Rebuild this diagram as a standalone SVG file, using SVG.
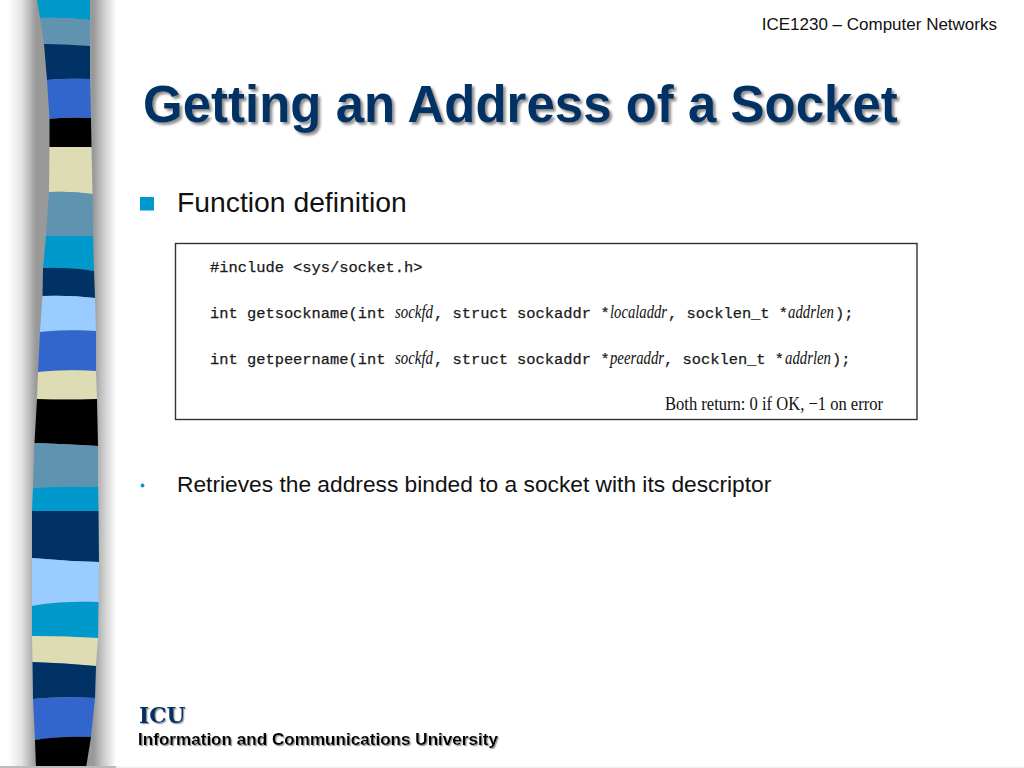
<svg xmlns="http://www.w3.org/2000/svg" width="1024" height="768" viewBox="0 0 1024 768">
<style>
.cy{fill:#0099cc}.st{fill:#5f93af}.na{fill:#003366}.ro{fill:#3366cc}.bk{fill:#000}.cr{fill:#dddcb4}.lt{fill:#99ccff}
text{font-family:"Liberation Sans",Arial,sans-serif}
.code{font-family:"Liberation Mono","Courier New",monospace;font-size:15.4px;fill:#1a1a1a;stroke:#1a1a1a;stroke-width:.25}
.it{font-family:"Liberation Serif","Times New Roman",serif;font-style:italic;font-size:19px;fill:#111;stroke:none}
</style>
<defs>
<linearGradient id="shade" gradientUnits="userSpaceOnUse" x1="0" y1="0" x2="120" y2="0">
<stop offset="0.07" stop-color="#fff"/><stop offset="0.18" stop-color="#e2e2e2"/><stop offset="0.3" stop-color="#999"/><stop offset="0.78" stop-color="#999"/><stop offset="0.85" stop-color="#c4c4c4"/><stop offset="0.97" stop-color="#fff"/>
</linearGradient>
<filter id="soft"><feGaussianBlur stdDeviation="0.35"/></filter>
<filter id="ts" x="-5%" y="-20%" width="110%" height="150%"><feDropShadow dx="2.5" dy="2.5" stdDeviation="0.9" flood-color="#8f8f8f"/></filter>
<filter id="fs" x="-5%" y="-20%" width="110%" height="150%"><feDropShadow dx="1.2" dy="1.2" stdDeviation="0.6" flood-color="#999"/></filter>
</defs>
<rect width="1024" height="768" fill="#fff"/>
<g id="band-shadow"><rect x="0" y="0" width="120" height="768" fill="url(#shade)"/></g>
<g id="bands" filter="url(#soft)">
<path class="cy" d="M37 0H90V20Q60 17 40 18Z"/>
<path class="st" d="M40 18Q60 17 90 20V46Q65 44 44 44Z"/>
<path class="na" d="M44 44Q65 44 90 46V79Q65 78 47 80Z"/>
<path class="ro" d="M47 80Q65 78 90 79L91 118Q65 117 49.500 119Z"/>
<path class="bk" d="M49.500 119Q65 117 91 118L91.500 147H49.500Z"/>
<path class="cr" d="M49.500 147H91.500L92.500 194Q70 191 49 192Z"/>
<path class="st" d="M49 192Q70 191 92.500 194L93 236H46Z"/>
<path class="cy" d="M46 236H93L94 271Q70 267 43 268Z"/>
<path class="na" d="M43 268Q70 267 94 271L95 298Q70 295 42.500 296Z"/>
<path class="lt" d="M42.500 296Q70 295 95 298L96 331Q65 329 40 332Z"/>
<path class="ro" d="M40 332Q65 329 96 331V371Q65 369 38 372Z"/>
<path class="cr" d="M38 372Q65 369 96 371L97 399Q65 400 37 399Z"/>
<path class="bk" d="M37 399Q65 400 97 399L98 446Q65 444 34.500 443Z"/>
<path class="st" d="M34.500 443Q65 444 98 446V487Q60 486 33 488Z"/>
<path class="cy" d="M33 488Q60 486 98 487L98.500 511H32Z"/>
<path class="na" d="M32 511H98.500L99 562Q65 561 32 558Z"/>
<path class="lt" d="M32 558Q65 561 99 562L98.500 602Q60 601 32 606Z"/>
<path class="cy" d="M32 606Q60 601 98.500 602L98 638Q65 636 32 636Z"/>
<path class="cr" d="M32 636Q65 636 98 638L96 666Q65 663 32.500 662Z"/>
<path class="na" d="M32.500 662Q65 663 96 666L95 698Q60 696 33 699Z"/>
<path class="ro" d="M33 699Q60 696 95 698L91 737Q60 736 35 740Z"/>
<path class="bk" d="M35 740Q60 736 91 737L86 768H36Z"/>
</g>
<g id="bottom-rule">
<rect x="0" y="766" width="116" height="2" fill="#bbb"/>
<rect x="116" y="766.500" width="908" height="1.500" fill="#eee"/>
</g>
<g id="header"><text x="997" y="30" text-anchor="end" font-size="17" fill="#111">ICE1230 – Computer Networks</text></g>
<g id="title"><text x="143" y="122" font-size="51" font-weight="700" fill="#003366" filter="url(#ts)">Getting an Address of a Socket</text></g>
<g id="bullet-1">
<rect x="140" y="197" width="14" height="13.500" fill="#0099cc"/>
<text x="177" y="212" font-size="28.300" fill="#111">Function definition</text>
</g>
<g id="code-box">
<rect x="175.500" y="243.500" width="741.500" height="176" fill="#fff" stroke="#333" stroke-width="1.400"/>
<text class="code" x="210" y="272">#include &lt;sys/socket.h&gt;</text>
<text class="code" y="318"><tspan x="210">int getsockname(int</tspan><tspan class="it" x="395" textLength="38" lengthAdjust="spacingAndGlyphs">sockfd</tspan><tspan x="434">, struct sockaddr</tspan><tspan x="600.500">*</tspan><tspan class="it" x="610" textLength="57" lengthAdjust="spacingAndGlyphs">localaddr</tspan><tspan x="668">, socklen_t *</tspan><tspan class="it" x="788" textLength="46" lengthAdjust="spacingAndGlyphs">addrlen</tspan><tspan x="835">);</tspan></text>
<text class="code" y="364"><tspan x="210">int getpeername(int</tspan><tspan class="it" x="395" textLength="38" lengthAdjust="spacingAndGlyphs">sockfd</tspan><tspan x="434">, struct sockaddr</tspan><tspan x="600.500">*</tspan><tspan class="it" x="610" textLength="54" lengthAdjust="spacingAndGlyphs">peeraddr</tspan><tspan x="664">, socklen_t *</tspan><tspan class="it" x="785" textLength="46" lengthAdjust="spacingAndGlyphs">addrlen</tspan><tspan x="832">);</tspan></text>
<text x="665" y="410" font-size="19" fill="#111" textLength="218" lengthAdjust="spacingAndGlyphs" style="font-family:'Liberation Serif','Times New Roman',serif">Both return: 0 if OK, −1 on error</text>
</g>
<g id="bullet-2">
<circle cx="142.500" cy="485.500" r="1.900" fill="#0099cc"/>
<text x="177" y="492" font-size="22.750" fill="#111">Retrieves the address binded to a socket with its descriptor</text>
</g>
<g id="footer">
<text x="139" y="723" font-size="21.800" font-weight="700" fill="#003366" filter="url(#fs)" style="font-family:'DejaVu Serif',serif">ICU</text>
<text x="138" y="745" font-size="17.100" font-weight="700" fill="#000" filter="url(#fs)">Information and Communications University</text>
</g>
</svg>
